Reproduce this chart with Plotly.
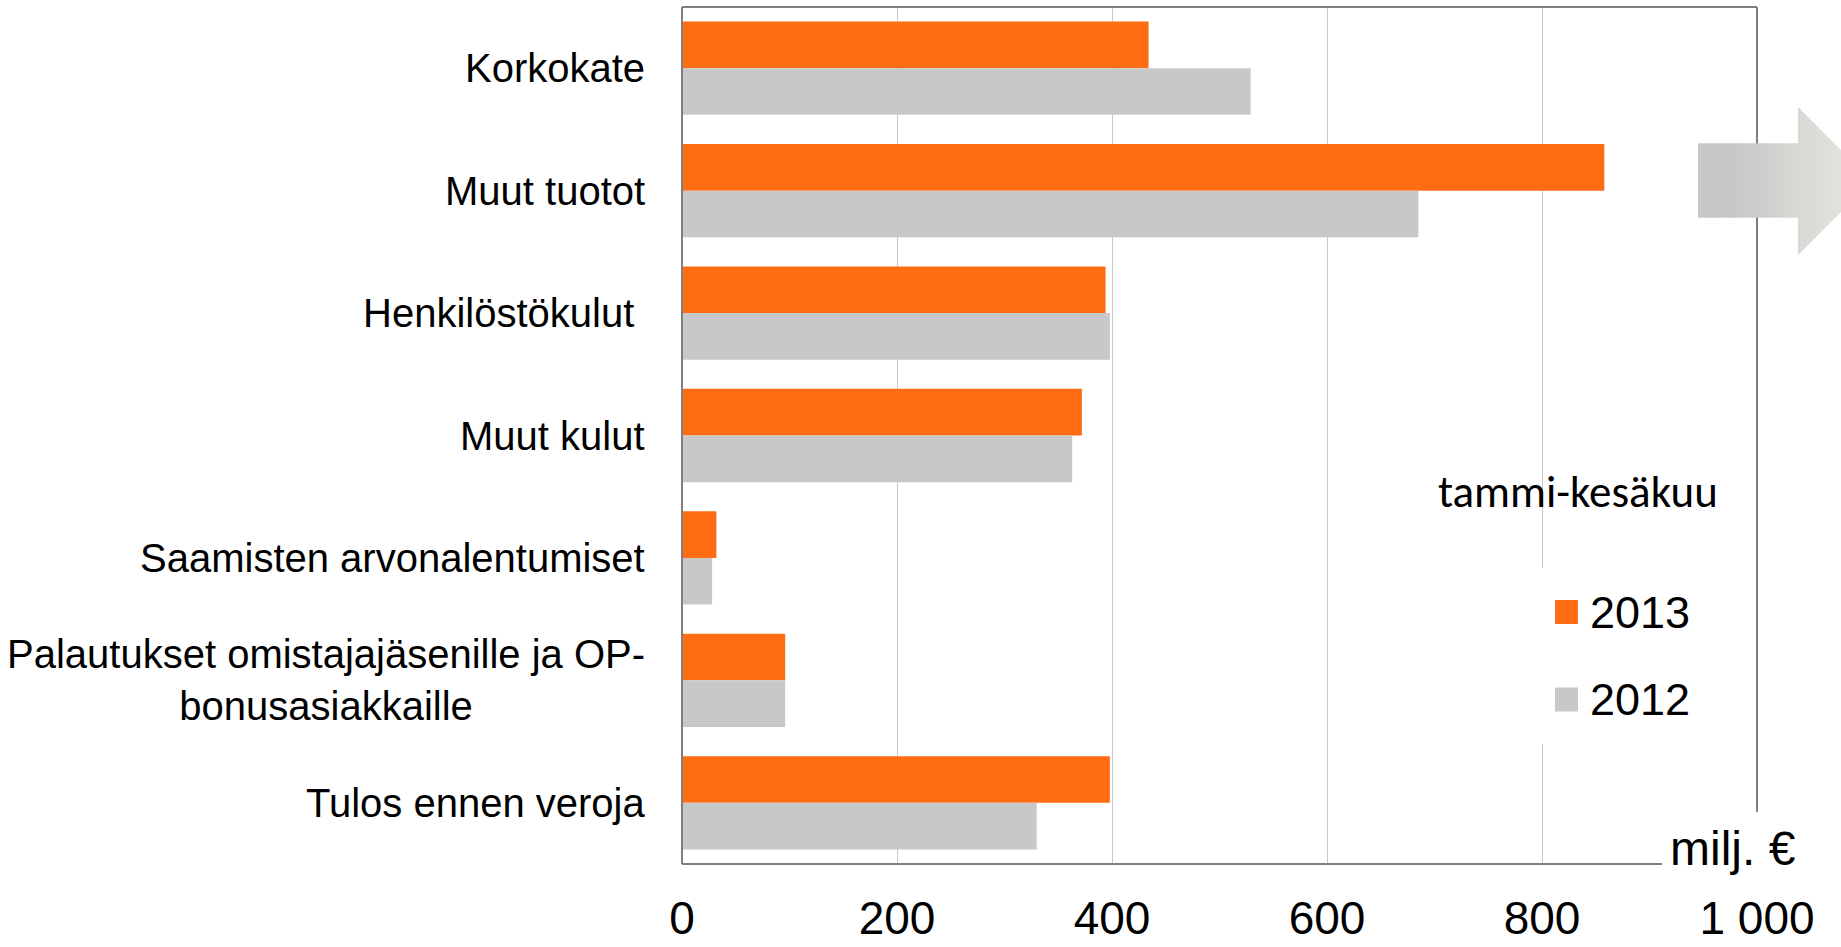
import plotly.graph_objects as go

categories = [
    "Korkokate",
    "Muut tuotot",
    "Henkilöstökulut\u00a0",
    "Muut kulut",
    "Saamisten arvonalentumiset",
    "Palautukset omistajajäsenille ja OP-<br>bonusasiakkaille",
    "Tulos ennen veroja",
]
values_2013 = [434, 858, 394, 372, 32, 96, 398]
values_2012 = [529, 685, 398, 363, 28, 96, 330]
series_names = ["2013", "2012"]
tick_vals = [0, 200, 400, 600, 800, 1000]
tick_text = ["0", "200", "400", "600", "800", "1 000"]

ORANGE = "#ff6c14"
GREY = "#c8c8c8"
DARK = "#7f7f7f"
FONT = "Liberation Sans, Arial, sans-serif"

W_FIG, H_FIG = 1841, 947
L, R, T, B = 682, 1757, 7, 864


def px_x(p):
    return (p - L) / (R - L)


def px_y(p):
    return (B - p) / (B - T)


fig = go.Figure()
fig.add_trace(go.Bar(y=categories, x=values_2013, name=series_names[0],
                     orientation="h", marker=dict(color=ORANGE, line_width=0)))
fig.add_trace(go.Bar(y=categories, x=values_2012, name=series_names[1],
                     orientation="h", marker=dict(color=GREY, line_width=0)))

shapes = []
# frame lines
shapes.append(dict(type="line", xref="paper", yref="paper", x0=0, x1=1, y0=1, y1=1,
                   line=dict(color=DARK, width=2)))
shapes.append(dict(type="line", xref="paper", yref="paper", x0=1, x1=1, y0=px_y(812), y1=1,
                   line=dict(color=DARK, width=2)))
shapes.append(dict(type="line", xref="paper", yref="paper", x0=0, x1=0, y0=0, y1=1,
                   line=dict(color=DARK, width=2)))
# white patch behind the unit label
shapes.append(dict(type="rect", xref="paper", yref="paper", layer="above",
                   x0=px_x(1663), x1=px_x(1812), y0=px_y(880), y1=px_y(813),
                   fillcolor="white", line_width=0))
shapes.append(dict(type="line", xref="paper", yref="paper", x0=0, x1=px_x(1662), y0=0, y1=0,
                   line=dict(color=DARK, width=2)))
# legend box
shapes.append(dict(type="rect", xref="paper", yref="paper", layer="above",
                   x0=px_x(1530), x1=px_x(1745), y0=px_y(744), y1=px_y(568),
                   fillcolor="white", line_width=0))
for color, yc in [(ORANGE, 612), (GREY, 699.5)]:
    shapes.append(dict(type="rect", xref="paper", yref="paper", layer="above",
                       x0=px_x(1555), x1=px_x(1578), y0=px_y(yc + 12), y1=px_y(yc - 12),
                       fillcolor=color, line_width=0))


# gradient arrow on the right, built from thin strips
def lerp(a, b, t):
    return a + (b - a) * t


def strip_color(x):
    t = min(max((x - 1735) / (1841 - 1735), 0), 1)
    c0, c1 = (200, 200, 200), (227, 227, 221)
    return "rgb(%d,%d,%d)" % tuple(round(lerp(c0[i], c1[i], t)) for i in range(3))


x = 1698
step = 3
while x < 1841:
    xa, xb = x, min(x + step, 1841) + 0.6
    if xb <= 1798:
        pts = [(xa, 143.3), (xb, 143.3), (xb, 217.7), (xa, 217.7)]
    else:
        xa2 = max(xa, 1798)
        if xa < 1798:
            shapes.append(dict(type="rect", xref="paper", yref="paper", layer="above",
                               x0=px_x(xa), x1=px_x(1798.5), y0=px_y(217.7), y1=px_y(143.3),
                               fillcolor=strip_color(xa), line_width=0))
        ta, tb = 107 + (xa2 - 1798), 107 + (xb - 1798)
        ba, bb = 255 - (xa2 - 1798), 255 - (xb - 1798)
        pts = [(xa2, ta), (xb, tb), (xb, bb), (xa2, ba)]
    path = "M " + " L ".join("%f,%f" % (px_x(a), px_y(b)) for a, b in pts) + " Z"
    shapes.append(dict(type="path", xref="paper", yref="paper", layer="above", path=path,
                       fillcolor=strip_color(x), line_width=0))
    x += step

annotations = []
for cat in categories:
    annotations.append(dict(x=px_x(647), xref="paper", y=cat, yref="y", text=cat,
                            xanchor="right", yanchor="middle", align="center",
                            showarrow=False, font=dict(family=FONT, size=40, color="black")))
annotations.append(dict(x=px_x(1436), xref="paper", y=px_y(492), yref="paper",
                        text="tammi-kesäkuu", xanchor="left", yanchor="middle",
                        showarrow=False,
                        font=dict(family="Carlito, Lato, sans-serif", size=45, color="black")))
for name, yc in zip(series_names, [612, 699.5]):
    annotations.append(dict(x=px_x(1588), xref="paper", y=px_y(yc), yref="paper", text=name,
                            xanchor="left", yanchor="middle", showarrow=False,
                            font=dict(family=FONT, size=45, color="black")))
annotations.append(dict(x=px_x(1668), xref="paper", y=px_y(848), yref="paper", text="milj. €",
                        xanchor="left", yanchor="middle", showarrow=False,
                        font=dict(family=FONT, size=48, color="black")))

fig.update_layout(
    width=W_FIG, height=H_FIG, autosize=False,
    margin=dict(l=L, r=W_FIG - R, t=T, b=H_FIG - B, pad=0),
    paper_bgcolor="white", plot_bgcolor="white",
    barmode="group", bargap=0.238, bargroupgap=0,
    showlegend=False,
    shapes=shapes, annotations=annotations,
    font=dict(family=FONT, color="black"),
)
fig.update_xaxes(range=[0, 1000], tickvals=tick_vals, ticktext=tick_text, automargin=False,
                 showgrid=True, gridcolor="#c8c8c8", gridwidth=1.3, zeroline=False,
                 showline=False, ticks="outside", ticklen=14, tickcolor="rgba(0,0,0,0)",
                 tickfont=dict(family=FONT, size=46, color="black"))
fig.update_yaxes(type="category", autorange="reversed", showticklabels=False, automargin=False,
                 showgrid=False, zeroline=False, showline=False)

fig.write_html("out.html", config={"displayModeBar": False},
               post_script="document.body.style.margin='0';")
